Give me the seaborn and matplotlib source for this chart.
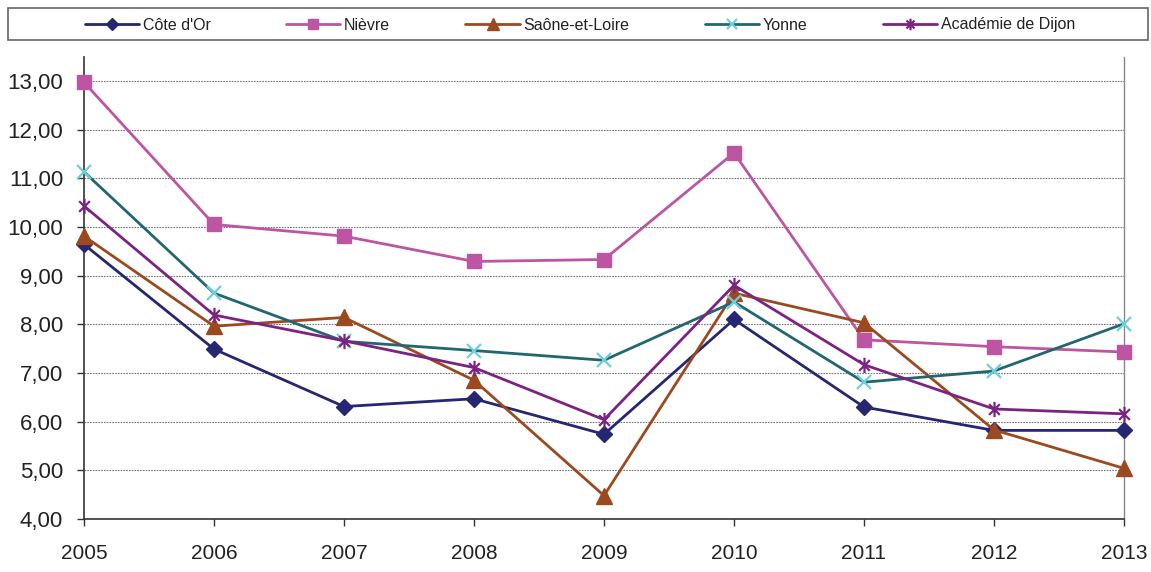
import matplotlib
matplotlib.use("Agg")
import matplotlib.pyplot as plt
import seaborn as sns
import numpy as np
import pandas as pd
from matplotlib.path import Path
from matplotlib.patches import Rectangle

# ---- data ----
years = [2005, 2006, 2007, 2008, 2009, 2010, 2011, 2012, 2013]
cote_dor = [9.64, 7.49, 6.31, 6.47, 5.74, 8.10, 6.30, 5.82, 5.82]
nievre = [12.97, 10.05, 9.81, 9.29, 9.33, 11.52, 7.68, 7.54, 7.43]
saone = [9.81, 7.96, 8.14, 6.85, 4.48, 8.64, 8.03, 5.83, 5.04]
yonne = [11.13, 8.64, 7.65, 7.46, 7.26, 8.46, 6.81, 7.04, 8.01]
academie = [10.43, 8.19, 7.66, 7.11, 6.04, 8.80, 7.17, 6.26, 6.16]
series_names = ["Côte d'Or", "Nièvre", "Saône-et-Loire", "Yonne", "Académie de Dijon"]
yticks = [4, 5, 6, 7, 8, 9, 10, 11, 12, 13]
ytick_labels = ["4,00", "5,00", "6,00", "7,00", "8,00", "9,00", "10,00", "11,00", "12,00", "13,00"]

sns.set_theme(style="white")
plt.rcParams['font.family'] = ['Liberation Sans', 'DejaVu Sans']

df = pd.DataFrame({"year": years * 5,
                   "value": cote_dor + nievre + saone + yonne + academie,
                   "series": sum([[n] * len(years) for n in series_names], [])})

# asterisk marker: X plus vertical bar
star_path = Path(
    [(-0.7, -0.7), (0.7, 0.7), (-0.7, 0.7), (0.7, -0.7), (0, -1), (0, 1)],
    [Path.MOVETO, Path.LINETO, Path.MOVETO, Path.LINETO, Path.MOVETO, Path.LINETO])

styles = {
    "Côte d'Or": dict(color="#262673", marker="D", ms=8, mfc="#262673", mec="#262673", mew=1),
    "Nièvre": dict(color="#bd55a3", marker="s", ms=10.5, mfc="#bd55a3", mec="#bd55a3", mew=1),
    "Saône-et-Loire": dict(color="#9b4a20", marker="^", ms=11, mfc="#9b4a20", mec="#9b4a20", mew=1),
    "Yonne": dict(color="#226770", marker="x", ms=10, mfc="none", mec="#6ccfdc", mew=1.6),
    "Académie de Dijon": dict(color="#7b2382", marker=star_path, ms=11, mfc="none", mec="#7b2382", mew=1.6),
}

fig = plt.figure(figsize=(11.51, 5.72), dpi=100)
ax = fig.add_axes([84 / 1151, 1 - 519 / 572, (1124 - 84) / 1151, (519 - 56.5) / 572])

for name in series_names:
    st = styles[name]
    sub = df[df["series"] == name]
    sns.lineplot(data=sub, x="year", y="value", ax=ax, color=st["color"], lw=2.0,
                 marker=st["marker"], markersize=st["ms"], markerfacecolor=st["mfc"],
                 markeredgecolor=st["mec"], markeredgewidth=st["mew"], label=name,
                 clip_on=False, zorder=3)

ax.set_xlim(2005, 2013)
ax.set_ylim(4, 13.5)
ax.set_xticks(years)
ax.set_xticklabels([str(y) for y in years])
ax.set_yticks(yticks)
ax.set_yticklabels(ytick_labels)
ax.set_xlabel("")
ax.set_ylabel("")

ax.grid(False)
for yv in yticks[1:]:
    ax.axhline(yv, color="#777777", lw=0.8, ls=(0, (1.5, 1)), zorder=1)

ax.spines["top"].set_visible(False)
ax.spines["left"].set_color("#333333")
ax.spines["bottom"].set_color("#333333")
ax.spines["left"].set_linewidth(1.2)
ax.spines["bottom"].set_linewidth(1.2)
ax.spines["right"].set_color("#888888")
ax.spines["right"].set_linewidth(1.0)

ax.tick_params(axis="both", which="major", direction="out", length=5, width=1,
               color="#333333", labelcolor="#222222", left=True, bottom=True)
ax.tick_params(axis="y", pad=10, labelsize=16)
ax.tick_params(axis="x", pad=13, labelsize=15)

handles, labels = ax.get_legend_handles_labels()
if ax.legend_:
    ax.legend_.remove()
leg = fig.legend(handles, labels, loc="center", bbox_to_anchor=(580 / 1151, 1 - 25 / 572),
                 ncol=5, frameon=False, fontsize=11.5, handlelength=3.4, handletextpad=0.25,
                 columnspacing=4.7, markerscale=0.75)
for t in leg.get_texts():
    t.set_color("#222222")

fig.patches.append(Rectangle((8 / 1151, 1 - 40 / 572), (1148 - 8) / 1151, 32 / 572,
                             transform=fig.transFigure, fill=False, edgecolor="#666666",
                             lw=1.2))

fig.savefig("out.png", dpi=100)
